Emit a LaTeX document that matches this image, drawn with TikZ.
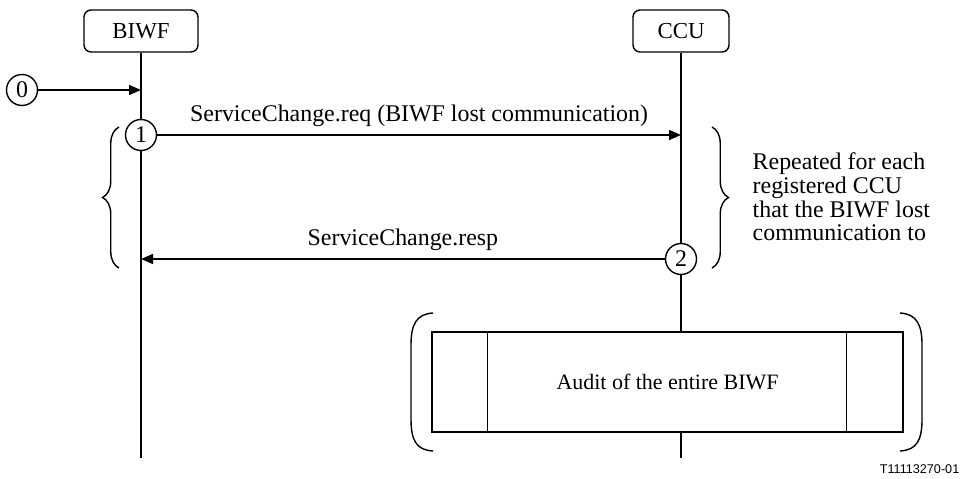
\documentclass[tikz,border=0pt]{standalone}
\usepackage{fontspec}
\setmainfont{Liberation Serif}
\newfontfamily\figfont{Liberation Sans}
\usetikzlibrary{arrows.meta,calc,decorations.pathreplacing}
\begin{document}
\begin{tikzpicture}[x=0.02cm, y=-0.02cm, line width=0.8pt, font=\fontsize{13.6}{13.4}\selectfont,
	actor/.style={draw, rounded corners=4pt, minimum height=0.84cm, inner sep=0pt, font=\fontsize{13}{14}\selectfont},
	msgnum/.style={draw, circle, fill=white, minimum size=0.62cm, inner sep=0pt},
	msg/.style={-{Triangle[length=0.24cm, width=0.2cm]}},
	repbrace/.style={decorate, decoration={brace, amplitude=0.33cm}}]
		\useasboundingbox (0,0) rectangle (962,479);

		\node[actor, minimum width=2.28cm] (biwf) at (141,31) {BIWF};
		\node[actor, minimum width=1.92cm] (ccu) at (681,31) {CCU};
		\coordinate (biwfend) at (141,458);
		\coordinate (ccuend) at (681,458);

		\node[draw, minimum width=9.42cm, minimum height=2cm, inner sep=0pt, font=\fontsize{12.5}{14}\selectfont] (audit) at (667.5,382) {Audit of the entire BIWF};
		\draw ($(audit.north west)+(56,0)$) -- ($(audit.south west)+(56,0)$);
		\draw ($(audit.north east)-(57,0)$) -- ($(audit.south east)-(57,0)$);

		\draw (biwf.south) -- (biwfend);
		\draw (ccu.south) -- (audit.north -| ccu);
		\draw (audit.south -| ccu) -- (ccuend);

		\node[msgnum] (s0) at (22,90) {0};
		\node[msgnum] (s1) at (141,135) {1};
		\node[msgnum] (s2) at (681,259) {2};

		\draw[msg] (s0) -- (s0 -| biwf);
		\draw[msg] (s1) -- (s1 -| ccu) node[midway, above, yshift=1pt]{ServiceChange.req (BIWF lost communication)};
		\draw[msg] (s2) -- (s2 -| biwf) node[midway, above, yshift=1pt]{ServiceChange.resp};

		\draw[repbrace] (119,268) -- (119,127);
		\draw[repbrace] (712,127) -- (712,268);
		\node[anchor=west, align=left, inner sep=0pt] (rep) at (752,197) {Repeated for each\\registered CCU\\that the BIWF lost\\communication to};

		\draw (433,313) .. controls (416,314) and (411,325) .. (411,345) -- (411,419) .. controls (411,440) and (416,450) .. (433,451);
		\draw (900,313) .. controls (917,314) and (922,325) .. (922,345) -- (922,419) .. controls (922,440) and (917,450) .. (900,451);

		\node[anchor=south east, inner sep=0pt, font=\figfont\fontsize{7.2}{8}\selectfont] (fig) at (960,474) {T11113270-01};
	\end{tikzpicture}
\end{document}
